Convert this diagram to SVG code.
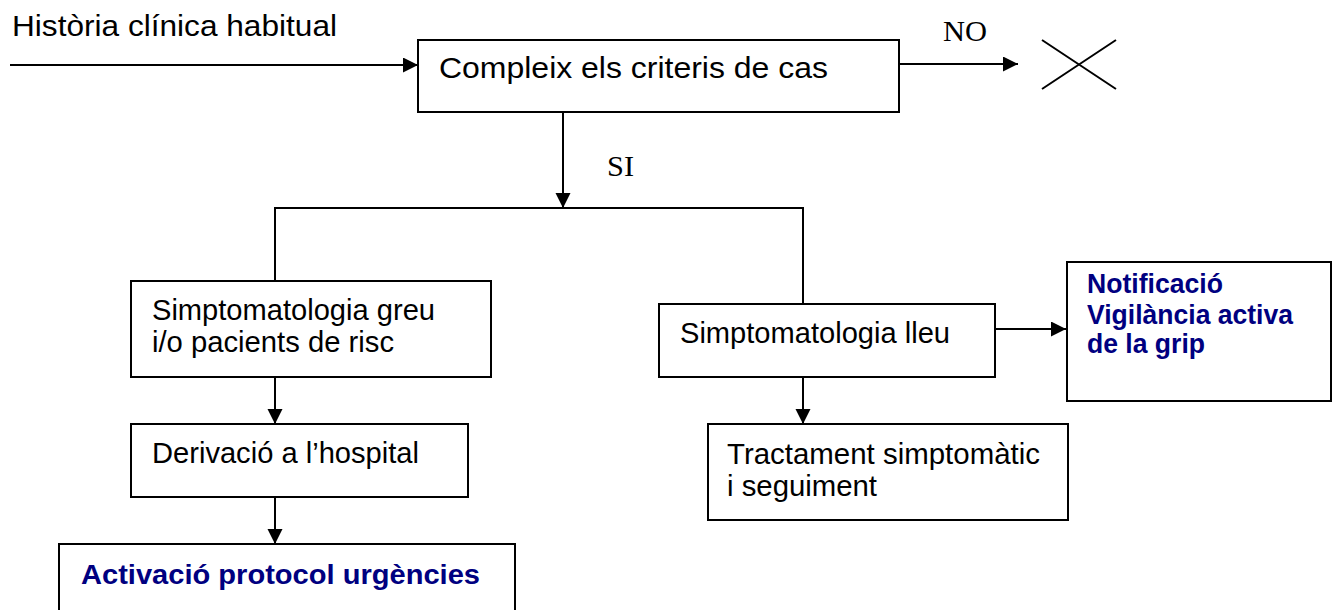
<svg xmlns="http://www.w3.org/2000/svg" width="1339" height="610" viewBox="0 0 1339 610">
<style>
.box{fill:#fff;stroke:#000;stroke-width:2}
.ln{fill:none;stroke:#000;stroke-width:2}
.t{font-family:"Liberation Sans",Arial,sans-serif;font-size:29px;fill:#000}
.b{font-family:"Liberation Sans",Arial,sans-serif;font-size:27px;font-weight:bold;fill:#000080}
.s{font-family:"Liberation Serif","Times New Roman",serif;font-size:30px;fill:#000}
</style>
<defs>
<marker id="ah" markerUnits="userSpaceOnUse" markerWidth="16" markerHeight="16" refX="15" refY="7.5" orient="auto">
<path d="M0,0 L15,7.5 L0,15 z" fill="#000"/>
</marker>
</defs>
<rect width="1339" height="610" fill="#fff"/>
<g id="connectors">
<path class="ln" d="M10,65 H418" marker-end="url(#ah)"/>
<path class="ln" d="M899,64 H1018" marker-end="url(#ah)"/>
<path class="ln" d="M563,112 V208" marker-end="url(#ah)"/>
<path class="ln" d="M275,281 V208 H803 V304"/>
<path class="ln" d="M275,377 V424" marker-end="url(#ah)"/>
<path class="ln" d="M275,497 V544" marker-end="url(#ah)"/>
<path class="ln" d="M995,329 H1066" marker-end="url(#ah)"/>
<path class="ln" d="M803,377 V424" marker-end="url(#ah)"/>
<text class="s" x="943" y="41" textLength="44" lengthAdjust="spacingAndGlyphs">NO</text>
<text class="s" x="607" y="176" textLength="27" lengthAdjust="spacingAndGlyphs">SI</text>
</g>
<g id="start">
<text class="t" x="12" y="36" textLength="325" lengthAdjust="spacingAndGlyphs">Història clínica habitual</text>
</g>
<g id="criteris">
<rect class="box" x="418" y="40" width="481" height="72"/>
<text class="t" x="439" y="78" textLength="389" lengthAdjust="spacingAndGlyphs">Compleix els criteris de cas</text>
</g>
<g id="end-no">
<path class="ln" d="M1042,40 L1116,89 M1042,89 L1116,40"/>
</g>
<g id="greu">
<rect class="box" x="131" y="281" width="360" height="96"/>
<text class="t" x="152" y="320" textLength="283" lengthAdjust="spacingAndGlyphs">Simptomatologia greu</text>
<text class="t" x="152" y="352" textLength="242" lengthAdjust="spacingAndGlyphs">i/o pacients de risc</text>
</g>
<g id="hospital">
<rect class="box" x="131" y="424" width="337" height="73"/>
<text class="t" x="152" y="463" textLength="267" lengthAdjust="spacingAndGlyphs">Derivació a l’hospital</text>
</g>
<g id="urgencies">
<rect class="box" x="59" y="544" width="456" height="80"/>
<text class="b" x="81" y="584" textLength="399" lengthAdjust="spacingAndGlyphs">Activació protocol urgències</text>
</g>
<g id="lleu">
<rect class="box" x="659" y="304" width="336" height="73"/>
<text class="t" x="680" y="343" textLength="270" lengthAdjust="spacingAndGlyphs">Simptomatologia lleu</text>
</g>
<g id="tractament">
<rect class="box" x="708" y="424" width="360" height="96"/>
<text class="t" x="727" y="464" textLength="313" lengthAdjust="spacingAndGlyphs">Tractament simptomàtic</text>
<text class="t" x="727" y="496" textLength="150" lengthAdjust="spacingAndGlyphs">i seguiment</text>
</g>
<g id="notificacio">
<rect class="box" x="1067" y="262" width="264" height="139"/>
<text class="b" x="1087" y="293" textLength="136" lengthAdjust="spacingAndGlyphs">Notificació</text>
<text class="b" x="1087" y="324" textLength="206" lengthAdjust="spacingAndGlyphs">Vigilància activa</text>
<text class="b" x="1087" y="353" textLength="118" lengthAdjust="spacingAndGlyphs">de la grip</text>
</g>
</svg>
